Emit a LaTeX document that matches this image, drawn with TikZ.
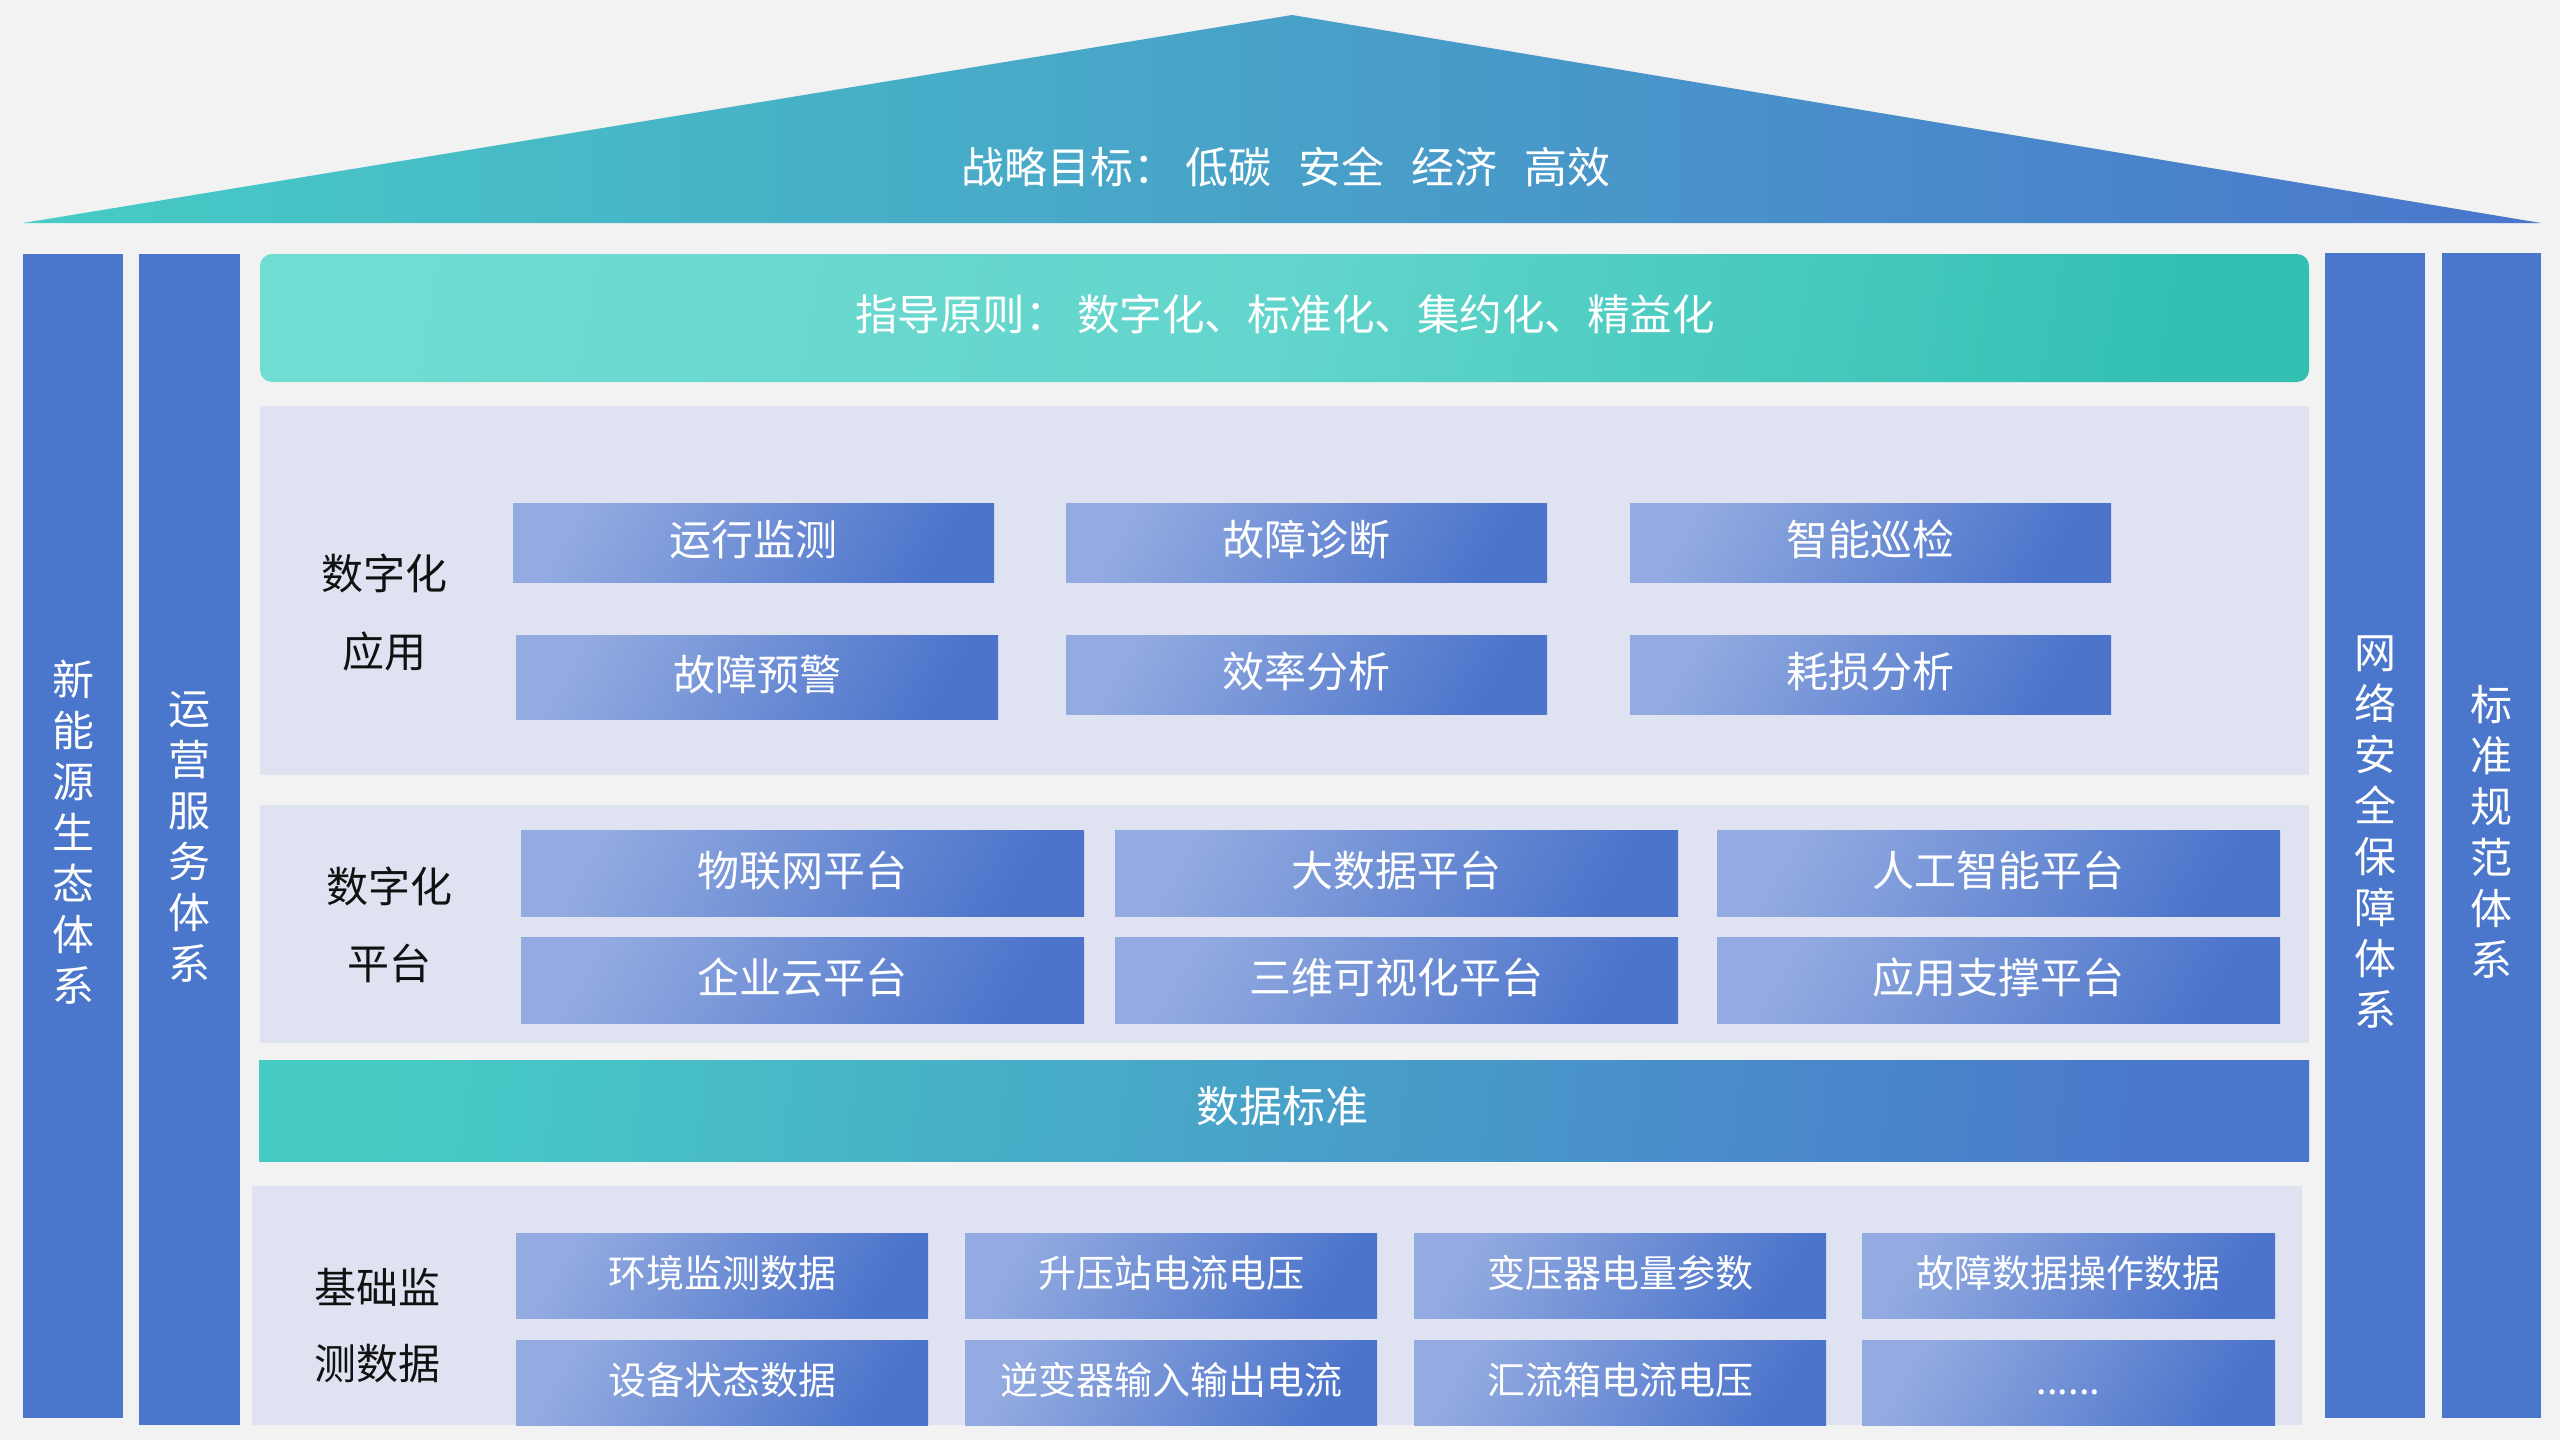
\documentclass[tikz,border=0pt]{standalone}
\usepackage{fontspec}
\setmainfont{Noto Sans CJK SC}
\definecolor{bg}{HTML}{F2F2F2}
\definecolor{pillarC}{HTML}{4A76CB}
\definecolor{panelC}{HTML}{DFE3F1}
\definecolor{boxL}{HTML}{93ABE0}
\definecolor{boxR}{HTML}{4C74CB}
\definecolor{tealA}{HTML}{46CCC5}
\definecolor{blueA}{HTML}{4A76CC}
\definecolor{guideL}{HTML}{70DCD2}
\definecolor{guideM}{HTML}{62D5CC}
\definecolor{guideR}{HTML}{33C0B3}
\definecolor{labelC}{HTML}{111111}
\tikzset{
  pillar/.style={rectangle, inner sep=0pt, fill=pillarC},
  vtext/.style={align=center, text=white, inner sep=0pt, font=\fontsize{42}{51}\selectfont},
  panel/.style={rectangle, inner sep=0pt, fill=panelC},
  gbox/.style={rectangle, inner sep=0pt, shading=axis, left color=boxL, right color=boxR, shading angle=60, text=white},
  appbox/.style={gbox, font=\fontsize{42}{50}\selectfont, text height=34pt, text depth=8pt},
  basebox/.style={gbox, font=\fontsize{38}{46}\selectfont, text height=31pt, text depth=7pt},
  lbl/.style={text=labelC, inner sep=0pt, font=\fontsize{42}{50}\selectfont},
  band/.style={text=white, inner sep=0pt, font=\fontsize{43}{50}\selectfont},
}
\begin{document}
\begin{tikzpicture}[x=1pt,y=-1pt]
\fill[bg] (0,0) rectangle (2560,1440);
% roof
\shade[left color=tealA, right color=blueA] (23,223) -- (1292,15) -- (2541,223) -- cycle;
\node[band] (roof) at (1286,167) {战略目标：\hspace{10pt}低碳\hspace{27pt}安全\hspace{27pt}经济\hspace{27pt}高效};
% pillars
\node[pillar, minimum width=100, minimum height=1164] (p1) at (73,836) {};
\node[pillar, minimum width=101, minimum height=1171] (p2) at (189.5,839.5) {};
\node[pillar, minimum width=100, minimum height=1165] (p3) at (2375,835.5) {};
\node[pillar, minimum width=99, minimum height=1165] (p4) at (2491.5,835.5) {};
\node[vtext] (p1t) at (73,832.5) {新\\能\\源\\生\\态\\体\\系};
\node[vtext] (p2t) at (189.5,836.5) {运\\营\\服\\务\\体\\系};
\node[vtext] (p3t) at (2375,832.5) {网\\络\\安\\全\\保\\障\\体\\系};
\node[vtext] (p4t) at (2491.5,831.5) {标\\准\\规\\范\\体\\系};
% guide
\shade[rounded corners=12pt, left color=guideL, right color=guideR, middle color=guideM, shading angle=80] (260,254) rectangle (2309,382);
\node[band, font=\fontsize{42.5}{50}\selectfont] (guide) at (1285,314) {指导原则：\hspace{10pt}数字化、标准化、集约化、精益化};
% app panel
\node[panel, minimum width=2049, minimum height=369] (appP) at (1284.5,590.5) {};
\node[lbl] (appL1) at (384,573) {数字化};
\node[lbl] (appL2) at (384,652) {应用};
\node[appbox, minimum width=481, minimum height=79] (a11) at (753.5,542.5) {运行监测};
\node[appbox, minimum width=481, minimum height=79] (a12) at (1306.5,542.5) {故障诊断};
\node[appbox, minimum width=481, minimum height=79] (a13) at (1870.5,542.5) {智能巡检};
\node[appbox, minimum width=482, minimum height=84] (a21) at (757,677) {故障预警};
\node[appbox, minimum width=481, minimum height=79] (a22) at (1306.5,674.5) {效率分析};
\node[appbox, minimum width=481, minimum height=79] (a23) at (1870.5,674.5) {耗损分析};
% platform panel
\node[panel, minimum width=2049, minimum height=238] (plP) at (1284.5,924) {};
\node[lbl] (plL1) at (389,886) {数字化};
\node[lbl] (plL2) at (389,963) {平台};
\node[appbox, minimum width=563, minimum height=86] (q11) at (802.5,873) {物联网平台};
\node[appbox, minimum width=563, minimum height=86] (q12) at (1396.5,873) {大数据平台};
\node[appbox, minimum width=563, minimum height=86] (q13) at (1998.5,873) {人工智能平台};
\node[appbox, minimum width=563, minimum height=86] (q21) at (802.5,980) {企业云平台};
\node[appbox, minimum width=563, minimum height=86] (q22) at (1396.5,980) {三维可视化平台};
\node[appbox, minimum width=563, minimum height=86] (q23) at (1998.5,980) {应用支撑平台};
% data standard
\shade[left color=tealA, right color=blueA, shading angle=82] (259,1060) rectangle (2309,1161);
\node[band] (ds) at (1282,1106) {数据标准};
% base panel
\node[panel, minimum width=2050, minimum height=239] (baseP) at (1277,1305.5) {};
\node[lbl] (bL1) at (377,1287) {基础监};
\node[lbl] (bL2) at (377,1364) {测数据};
\node[basebox, minimum width=412, minimum height=85] (b11) at (722,1275.5) {环境监测数据};
\node[basebox, minimum width=412, minimum height=85] (b12) at (1171,1275.5) {升压站电流电压};
\node[basebox, minimum width=412, minimum height=85] (b13) at (1620,1275.5) {变压器电量参数};
\node[basebox, minimum width=413, minimum height=85] (b14) at (2068.5,1275.5) {故障数据操作数据};
\node[basebox, minimum width=412, minimum height=85] (b21) at (722,1382.5) {设备状态数据};
\node[basebox, minimum width=412, minimum height=85] (b22) at (1171,1382.5) {逆变器输入输出电流};
\node[basebox, minimum width=412, minimum height=85] (b23) at (1620,1382.5) {汇流箱电流电压};
\node[basebox, minimum width=413, minimum height=85] (b24) at (2068.5,1382.5) {......};
\end{tikzpicture}
\end{document}
